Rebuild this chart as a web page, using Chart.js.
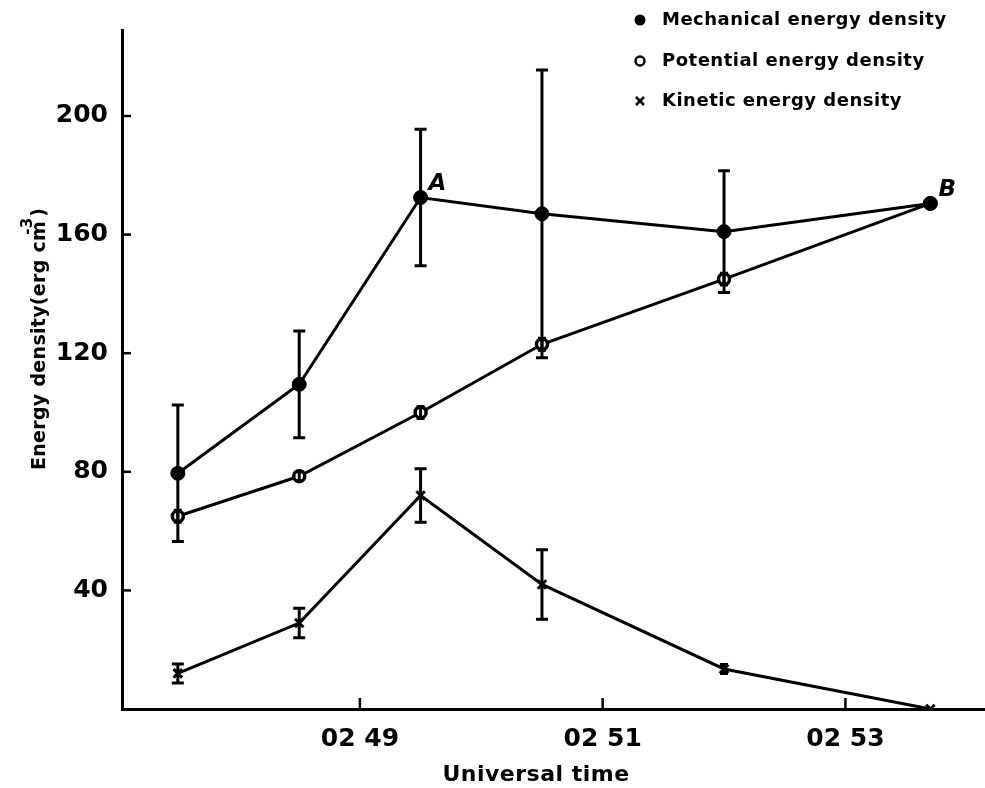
<!DOCTYPE html>
<html>
<head>
<meta charset="utf-8">
<script src="https://cdn.jsdelivr.net/npm/chart.js@4"></script>
<style>
  html, body { margin: 0; padding: 0; background: #fff; }
  #c { display: block; }
</style>
</head>
<body>
<canvas id="c" width="985" height="788"></canvas>
<script>
// ---- data ----
const times = [47.5, 48.5, 49.5, 50.5, 52.0, 53.7];          // minutes after 02 h UT
const mechanical = [79.5, 109.5, 172.5, 167, 161, 170.5];
const mechanicalErr = [23, 18, 23, 48.5, 20.5, 0];
const potential = [65, 78.5, 100, 123, 145, 170.5];
const potentialErr = [2, 1.5, 2, 2, 2, 0];
const kinetic = [12, 29, 72, 42, 13.5, 0];
const kineticErr = [3.2, 5, 9, 11.7, 1.5, 0];
const yTicks = [40, 80, 120, 160, 200];
const xTicks = [49, 51, 53];
const xTickLabels = ['02 49', '02 51', '02 53'];
const legendLabels = ['Mechanical energy density', 'Potential energy density', 'Kinetic energy density'];
const pointLabels = [{series: 0, index: 2, text: 'A'}, {series: 0, index: 5, text: 'B'}];
const xTitle = 'Universal time';
const yTitleMain = 'Energy density(erg cm';
const yTitleSup = '-3';
const yTitleEnd = ')';

const toXY = (arr) => arr.map((v, i) => ({x: times[i], y: v}));
const FONT = '"DejaVu Sans", "Liberation Sans", sans-serif';

const extras = {
  id: 'extras',
  beforeDraw(chart) {
    const ctx = chart.ctx;
    ctx.save();
    ctx.fillStyle = '#fff';
    ctx.fillRect(0, 0, chart.width, chart.height);
    ctx.restore();
  },
  afterDatasetsDraw(chart) {
    const ctx = chart.ctx;
    const xs = chart.scales.x, ys = chart.scales.y;
    ctx.save();
    ctx.strokeStyle = '#000';
    ctx.lineWidth = 3;
    // error bars
    chart.data.datasets.forEach((ds) => {
      ds.errors.forEach((e, i) => {
        if (!e) return;
        const px = xs.getPixelForValue(times[i]);
        const v = ds.data[i].y;
        const top = ys.getPixelForValue(v + e);
        const bot = ys.getPixelForValue(v - e);
        const cw = e < 3 ? 4 : 6;
        ctx.beginPath();
        ctx.moveTo(px, top); ctx.lineTo(px, bot);
        ctx.moveTo(px - cw, top); ctx.lineTo(px + cw, top);
        ctx.moveTo(px - cw, bot); ctx.lineTo(px + cw, bot);
        ctx.stroke();
      });
    });
    // inward tick marks
    ctx.lineWidth = 2.5;
    const ya = chart.chartArea;
    yTicks.forEach((v) => {
      const py = ys.getPixelForValue(v);
      ctx.beginPath(); ctx.moveTo(ya.left, py); ctx.lineTo(ya.left + 9, py); ctx.stroke();
    });
    xTicks.forEach((v) => {
      const px = xs.getPixelForValue(v);
      ctx.beginPath(); ctx.moveTo(px, ya.bottom); ctx.lineTo(px, ya.bottom - 11); ctx.stroke();
    });
    // point labels A, B
    ctx.fillStyle = '#000';
    ctx.font = 'italic bold 23px ' + FONT;
    ctx.textBaseline = 'middle';
    ctx.textAlign = 'left';
    pointLabels.forEach((p) => {
      const ds = chart.data.datasets[p.series];
      const px = xs.getPixelForValue(times[p.index]);
      const py = ys.getPixelForValue(ds.data[p.index].y);
      ctx.fillText(p.text, px + 8, py - 13);
    });
    // legend
    ctx.font = 'bold 18px ' + FONT;
    try { ctx.letterSpacing = '0.5px'; } catch (e) {}
    const lx = 640, ly = [20, 61, 101];
    legendLabels.forEach((t, i) => {
      ctx.fillStyle = '#000';
      ctx.fillText(t, lx + 22, ly[i]);
      ctx.beginPath();
      if (i === 0) {
        ctx.arc(lx, ly[i], 5.5, 0, Math.PI * 2); ctx.fill();
      } else if (i === 1) {
        ctx.lineWidth = 2.5;
        ctx.arc(lx, ly[i], 4.5, 0, Math.PI * 2); ctx.stroke();
      } else {
        ctx.lineWidth = 2.5;
        ctx.moveTo(lx - 4, ly[i] - 4); ctx.lineTo(lx + 4, ly[i] + 4);
        ctx.moveTo(lx + 4, ly[i] - 4); ctx.lineTo(lx - 4, ly[i] + 4);
        ctx.stroke();
      }
    });
    // x axis title
    ctx.font = 'bold 22px ' + FONT;
    ctx.textAlign = 'center';
    ctx.fillText(xTitle, 536, 775);
    // y axis title (rotated, with superscript)
    ctx.save();
    ctx.translate(40, 470);
    ctx.rotate(-Math.PI / 2);
    ctx.textAlign = 'left';
    ctx.font = 'bold 19px ' + FONT;
    try { ctx.letterSpacing = '0.3px'; } catch (e) {}
    ctx.fillText(yTitleMain, 0, 0);
    const w1 = ctx.measureText(yTitleMain).width;
    ctx.font = 'bold 15px ' + FONT;
    ctx.fillText(yTitleSup, w1 - 14, -12);
    ctx.font = 'bold 19px ' + FONT;
    ctx.fillText(yTitleEnd, w1 + 4, 0);
    ctx.restore();
    ctx.restore();
  }
};

new Chart(document.getElementById('c'), {
  type: 'line',
  data: {
    datasets: [
      {
        label: legendLabels[0], data: toXY(mechanical), errors: mechanicalErr,
        borderColor: '#000', borderWidth: 3, backgroundColor: '#000',
        pointStyle: 'circle', pointRadius: 7, pointBackgroundColor: '#000', pointBorderColor: '#000', pointBorderWidth: 1,
        tension: 0
      },
      {
        label: legendLabels[1], data: toXY(potential), errors: potentialErr,
        borderColor: '#000', borderWidth: 3, backgroundColor: '#fff',
        pointStyle: 'circle', pointRadius: 5.5, pointBackgroundColor: '#fff', pointBorderColor: '#000', pointBorderWidth: 3.5,
        tension: 0
      },
      {
        label: legendLabels[2], data: toXY(kinetic), errors: kineticErr,
        borderColor: '#000', borderWidth: 3, backgroundColor: '#000',
        pointStyle: 'crossRot', pointRadius: 6, pointBorderColor: '#000', pointBorderWidth: 3,
        tension: 0
      }
    ]
  },
  options: {
    responsive: false,
    animation: false,
    devicePixelRatio: 1,
    layout: { autoPadding: false, padding: { top: 30, right: 0, left: 0, bottom: 0 } },
    plugins: { legend: { display: false }, tooltip: { enabled: false } },
    scales: {
      x: {
        type: 'linear', min: 47.04, max: 54.15,
        afterBuildTicks: (s) => { s.ticks = xTicks.map((v) => ({value: v})); },
        afterFit: (s) => { s.height = 79; s.paddingLeft = 0; s.paddingRight = 0; },
        grid: { display: false, drawTicks: false },
        border: { display: true, color: '#000', width: 3 },
        ticks: {
          autoSkip: false, maxRotation: 0, padding: 15, color: '#000',
          font: { family: FONT, size: 25, weight: 'bold' },
          callback: (v) => xTickLabels[xTicks.indexOf(v)]
        },
        title: { display: false }
      },
      y: {
        type: 'linear', min: 0, max: 229, position: 'left',
        afterBuildTicks: (s) => { s.ticks = yTicks.map((v) => ({value: v})); },
        afterFit: (s) => { s.width = 122; s.paddingTop = 0; s.paddingBottom = 0; },
        grid: { display: false, drawTicks: false },
        border: { display: true, color: '#000', width: 3 },
        ticks: {
          padding: 14, color: '#000',
          font: { family: FONT, size: 25, weight: 'bold' }
        },
        title: { display: false }
      }
    }
  },
  plugins: [extras]
});
</script>
</body>
</html>
